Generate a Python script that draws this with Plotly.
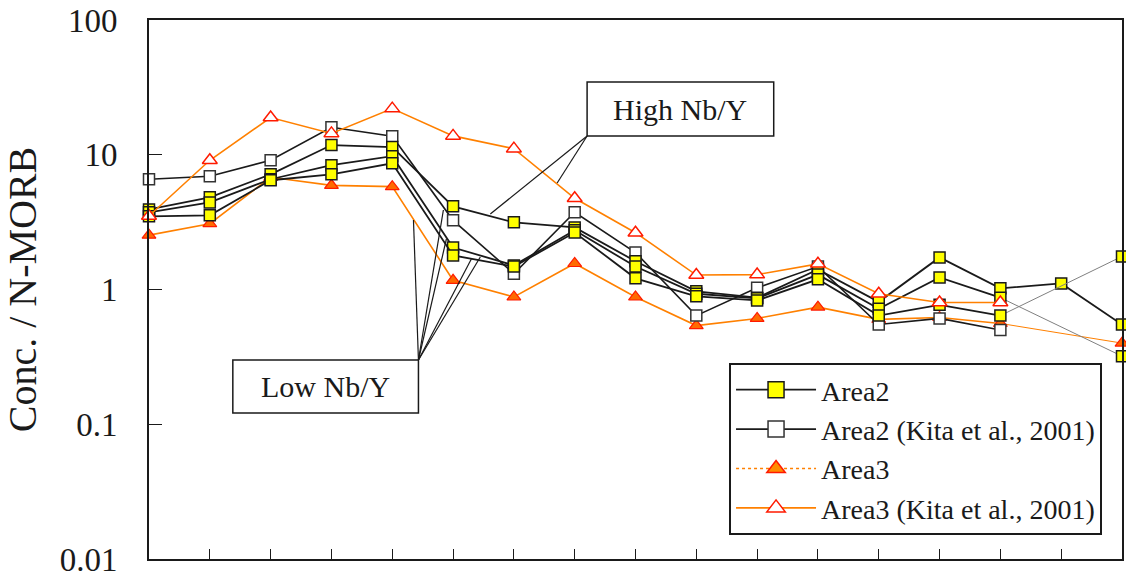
import plotly.graph_objects as go

# ---------------- data ----------------
positions = list(range(17))

area2_s1 = [3.93, 4.83, 7.16, 11.8, 11.4, 4.14, 3.15, 2.89, 1.62, 0.97, 0.87, 1.41, 0.81, 1.73, 1.02, 1.11, 0.55]
area2_s2 = [3.74, 4.43, 6.58, 8.36, 9.75, 2.05, 1.51, 2.75, 1.48, 0.93, 0.86, 1.29, 0.72, 1.23, 0.87, None, 0.32]
area2_s3 = [3.49, 3.55, 6.47, 7.16, 8.65, 1.79, 1.48, 2.65, 1.21, 0.89, 0.83, 1.19, 0.64, 0.77, 0.64, None, 1.76]
area2_kita = [6.58, 6.92, 9.1, 16.0, 13.7, 3.26, 1.31, 3.74, 1.88, 0.64, 1.03, 1.48, 0.55, 0.61, 0.50, None, None]
area3 = [2.53, 3.08, 6.8, 5.93, 5.80, 1.17, 0.88, 1.56, 0.88, 0.54, 0.61, 0.74, 0.60, 0.62, 0.56, None, 0.40]
area3_kita = [3.51, 9.1, 18.9, 14.4, 22.0, 13.8, 11.1, 4.75, 2.64, 1.28, 1.29, 1.55, 0.93, 0.80, 0.80, None, None]

y_tickvals = [0.01, 0.1, 1, 10, 100]
y_ticktext = ["0.01", "0.1", "1", "10", "100"]
legend_names = ["Area2", "Area2 (Kita et al., 2001)", "Area3", "Area3 (Kita et al., 2001)"]

FONT = "Liberation Serif, Times New Roman, serif"
BLACK = "#1a1a1a"
ORANGE = "#FF8000"
RED = "#FF1A00"

fig = go.Figure()


def bridges(series):
    """pairs of consecutive known points separated by missing values"""
    idx = [i for i, v in enumerate(series) if v is not None]
    out = []
    for a, b in zip(idx[:-1], idx[1:]):
        if b - a > 1:
            out.append(([positions[a], positions[b]], [series[a], series[b]]))
    return out


def add_series(series, line, marker, bridge_color):
    for bx, by in bridges(series):
        fig.add_trace(go.Scatter(x=bx, y=by, mode="lines", showlegend=False,
                                 line=dict(color=bridge_color, width=1), hoverinfo="skip",
                                 cliponaxis=False))
    fig.add_trace(go.Scatter(x=positions, y=series, mode="lines+markers", showlegend=False,
                             line=line, marker=marker, cliponaxis=False, connectgaps=False))


sq_yellow = dict(symbol="square", size=11, color="#FFFF00", line=dict(color=BLACK, width=1.5))
sq_white = dict(symbol="square", size=11, color="white", line=dict(color="#333333", width=1.5))
tri_fill = dict(symbol="triangle-up", size=12, color="#FF6A00", line=dict(color=RED, width=1.2))
tri_open = dict(symbol="triangle-up", size=13, color="white", line=dict(color=RED, width=1.5))

add_series(area3, dict(color=ORANGE, width=1.6), tri_fill, ORANGE)
add_series(area2_kita, dict(color=BLACK, width=1.6), sq_white, "#808080")
for s in (area2_s1, area2_s2, area2_s3):
    add_series(s, dict(color=BLACK, width=1.8), sq_yellow, "#808080")
add_series(area3_kita, dict(color=ORANGE, width=1.6), tri_open, ORANGE)

# legend-only entries
leg_markers = [
    (dict(color=BLACK, width=1.8), dict(symbol="square", size=16, color="#FFFF00", line=dict(color=BLACK, width=1.5))),
    (dict(color=BLACK, width=1.8), dict(symbol="square", size=16, color="white", line=dict(color="#333333", width=1.5))),
    (dict(color=ORANGE, width=1.6, dash="dot"), dict(symbol="triangle-up", size=18, color="#FF8C00", line=dict(color=RED, width=1.5))),
    (dict(color=ORANGE, width=1.6), dict(symbol="triangle-up", size=18, color="white", line=dict(color=RED, width=1.5))),
]
for name, (ln, mk) in zip(legend_names, leg_markers):
    fig.add_trace(go.Scatter(x=[None], y=[None], mode="lines+markers", name=name, line=ln, marker=mk))

# ---------------- layout ----------------
L, R, T, B = 149, 2, 20, 22
W, H = 1126, 581
pw, ph = W - L - R, H - T - B


def px(x):
    return (x - L) / pw


def py(y):
    return (H - B - y) / ph


shapes = []
# label boxes
for (x0, y0, x1, y1) in [(588, 82, 775, 136), (233, 360, 419, 413)]:
    shapes.append(dict(type="rect", xref="paper", yref="paper", x0=px(x0), x1=px(x1),
                       y0=py(y1), y1=py(y0), line=dict(color=BLACK, width=1.5), fillcolor="white",
                       layer="above"))
# leader lines
for (x0, y0, x1, y1) in [(588, 136, 491, 214), (588, 136, 558, 183),
                         (419, 360, 414, 220), (419, 360, 444, 210), (419, 360, 447, 239),
                         (419, 360, 472, 259), (419, 360, 481, 257)]:
    shapes.append(dict(type="line", xref="paper", yref="paper", x0=px(x0), y0=py(y0),
                       x1=px(x1), y1=py(y1), line=dict(color=BLACK, width=1.2), layer="above"))

annotations = [
    dict(text="High Nb/Y", xref="paper", yref="paper", x=px(681.5), y=py(109), showarrow=False,
         font=dict(family=FONT, size=30, color=BLACK), xanchor="center", yanchor="middle"),
    dict(text="Low Nb/Y", xref="paper", yref="paper", x=px(326), y=py(386.5), showarrow=False,
         font=dict(family=FONT, size=30, color=BLACK), xanchor="center", yanchor="middle"),
]

fig.update_layout(
    width=W, height=H,
    margin=dict(l=L, r=R, t=T, b=B),
    paper_bgcolor="white", plot_bgcolor="white",
    font=dict(family=FONT, color=BLACK),
    showlegend=True,
    legend=dict(x=px(1104), y=py(535), xanchor="right", yanchor="bottom",
                bgcolor="white", bordercolor=BLACK, borderwidth=2,
                font=dict(family=FONT, size=28, color=BLACK), itemwidth=80,
                tracegroupgap=0),
    shapes=shapes,
    annotations=annotations,
    xaxis=dict(range=[0, 16], tickmode="array", tickvals=positions, showticklabels=False,
               ticks="inside", ticklen=10, tickcolor=BLACK, tickwidth=1,
               showline=True, linecolor=BLACK, linewidth=2, mirror=True,
               showgrid=False, zeroline=False),
    yaxis=dict(type="log", range=[-2, 2], tickmode="array", tickvals=y_tickvals, ticktext=y_ticktext,
               ticks="inside", ticklen=13, tickcolor=BLACK, tickwidth=1,
               ticklabelstandoff=23,
               tickfont=dict(family=FONT, size=33, color=BLACK),
               showline=True, linecolor=BLACK, linewidth=2, mirror=True,
               showgrid=False, zeroline=False,
               title=dict(text="Conc. / N-MORB", font=dict(family=FONT, size=40, color=BLACK), standoff=14)),
)

fig.write_html("out.html")
